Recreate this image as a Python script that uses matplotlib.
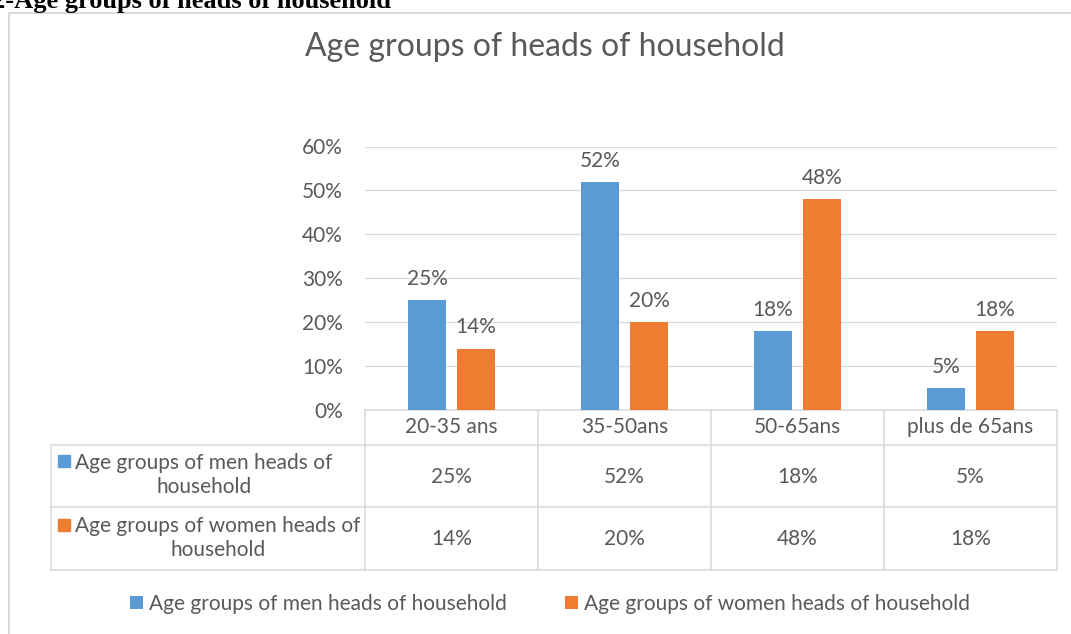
import matplotlib
matplotlib.use("Agg")
import matplotlib.pyplot as plt
from matplotlib.patches import Rectangle

# chart data
categories = ["20-35 ans", "35-50ans", "50-65ans", "plus de 65ans"]
men = [0.25, 0.52, 0.18, 0.05]
women = [0.14, 0.20, 0.48, 0.18]
series_names = ["Age groups of men heads of household",
                "Age groups of women heads of household"]
row_labels = ["Age groups of men heads of\nhousehold",
              "Age groups of women heads of\nhousehold"]
yticks = [0.0, 0.1, 0.2, 0.3, 0.4, 0.5, 0.6]

BLUE = "#5B9BD5"
ORANGE = "#ED7D31"
GREY = "#595959"
LINE = "#D9D9D9"
FONT = "Lato"
FS = 15

W, H = 1071, 634
fig = plt.figure(figsize=(W / 100, H / 100), dpi=100)
fig.patch.set_facecolor("white")

# overlay axes in pixel units (origin top-left) for frame, table and headings
ov = fig.add_axes([0, 0, 1, 1])
ov.set_xlim(0, W)
ov.set_ylim(H, 0)
ov.axis("off")

# plot area geometry (pixels)
left, right = 365, 1057
top, base = 146.5, 410
cat_w = (right - left) / len(categories)

ax = fig.add_axes([left / W, 1 - base / H, (right - left) / W, (base - top) / H])
ax.patch.set_alpha(0)
ax.set_xlim(-0.5, len(categories) - 0.5)
ax.set_ylim(0, 0.6)
for s in ax.spines.values():
    s.set_visible(False)
ax.set_yticks(yticks)
ax.set_yticklabels([f"{v:.0%}" for v in yticks], fontsize=FS, color=GREY, fontfamily=FONT)
ax.tick_params(axis="y", length=0, pad=16)
ax.set_xticks([])
ax.grid(axis="y", color=LINE, linewidth=0.9)
ax.set_axisbelow(True)

x = list(range(len(categories)))
bw = 38.5 / cat_w
off = 24.5 / cat_w
b1 = ax.bar([i - off for i in x], men, width=bw, color=BLUE, label=series_names[0])
b2 = ax.bar([i + off for i in x], women, width=bw, color=ORANGE, label=series_names[1])
for bars, vals in ((b1, men), (b2, women)):
    ax.bar_label(bars, labels=[f"{v:.0%}" for v in vals], padding=8,
                 fontsize=FS, color=GREY, fontfamily=FONT)

# outer chart frame
ov.plot([8.5, 8.5, W + 5], [H + 5, 12.5, 12.5], color=LINE, lw=1.4, clip_on=False)

# heading above the chart, partly cut by the page edge
ov.text(-8, 8, "2-Age groups of heads of household", fontfamily="Liberation Serif",
        fontweight="bold", fontsize=19, color="black", ha="left", va="baseline")

# chart title
ov.text(545, 47, "Age groups of heads of household", fontsize=23, color=GREY,
        fontfamily=FONT, ha="center", va="center")

# data table below the plot
edges = [left + i * cat_w for i in range(len(categories) + 1)]
rows_y = [410, 445, 507, 570]
tl = dict(color=LINE, lw=1.1)
ov.plot([left, right], [rows_y[0], rows_y[0]], **tl)
for yy in rows_y[1:]:
    ov.plot([51, right], [yy, yy], **tl)
for xx in edges:
    ov.plot([xx, xx], [rows_y[0], rows_y[-1]], **tl)
ov.plot([51, 51], [rows_y[1], rows_y[-1]], **tl)

for i, cat in enumerate(categories):
    cx = (edges[i] + edges[i + 1]) / 2
    ov.text(cx, 427, cat, fontsize=FS, color=GREY, fontfamily=FONT, ha="center", va="center")
    ov.text(cx, 477, f"{men[i]:.0%}", fontsize=FS, color=GREY, fontfamily=FONT,
            ha="center", va="center")
    ov.text(cx, 539, f"{women[i]:.0%}", fontsize=FS, color=GREY, fontfamily=FONT,
            ha="center", va="center")

for (ytxt, ykey, col, lab) in ((475, 455, BLUE, row_labels[0]),
                               (538, 519, ORANGE, row_labels[1])):
    ov.add_patch(Rectangle((58, ykey), 12, 12, color=col))
    ov.text(75, ytxt, lab, fontsize=FS, color=GREY, fontfamily=FONT, ha="left",
            va="center", multialignment="center", linespacing=1.2)

# legend at the bottom
fig.legend(handles=[b1, b2], labels=series_names, loc="center",
           bbox_to_anchor=(550 / W, 1 - 604 / H), ncol=2, frameon=False,
           handlelength=0.6, handleheight=0.6, handletextpad=0.3, columnspacing=2.8,
           prop={"family": FONT, "size": FS}, labelcolor=GREY)

fig.savefig("out.png", dpi=100)
